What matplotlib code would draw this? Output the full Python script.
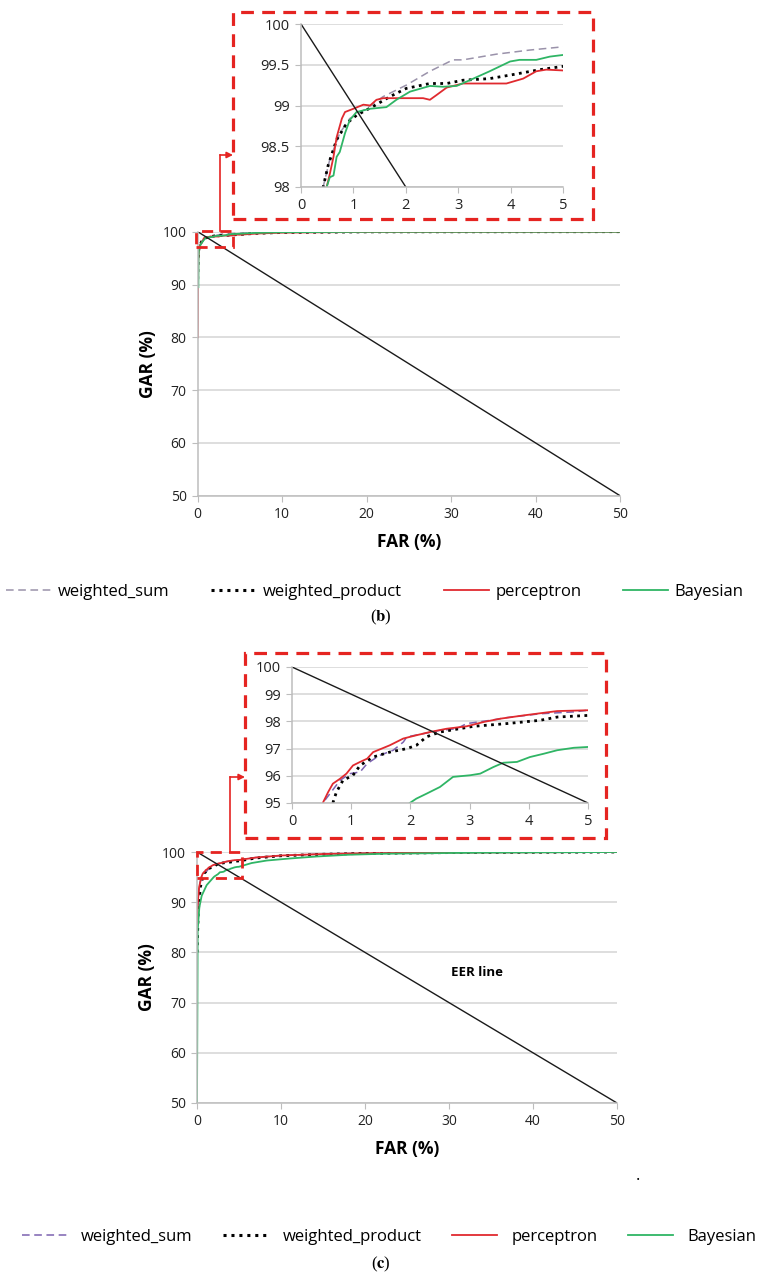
import matplotlib
matplotlib.use("Agg")
import matplotlib.pyplot as plt
import numpy as np
from matplotlib.lines import Line2D
from matplotlib.patches import Rectangle
from matplotlib.ticker import FuncFormatter

plt.rcParams['font.family'] = ['Open Sans', 'DejaVu Sans']

# ---------------- data: panel (b) ----------------
b_ws_far = [0, 0.05, 0.15, 0.3, 0.43, 0.55, 0.74, 0.93, 1.19, 1.57, 2.01, 2.46, 2.90, 3.09, 3.73, 4.36, 5.0, 7, 10, 20, 50]
b_ws_gar = [92, 95.5, 97.0, 97.6, 98.02, 98.34, 98.66, 98.84, 98.94, 99.11, 99.25, 99.42, 99.56, 99.56, 99.63, 99.68, 99.72, 99.82, 99.9, 99.98, 100]

b_wp_far = [0, 0.05, 0.15, 0.3, 0.43, 0.52, 0.68, 0.87, 1.06, 1.38, 1.70, 2.01, 2.46, 2.78, 3.09, 3.60, 4.05, 4.56, 5.0, 7, 10, 20, 50]
b_wp_gar = [91, 95.0, 96.8, 97.5, 98.02, 98.27, 98.58, 98.78, 98.88, 98.99, 99.11, 99.21, 99.27, 99.27, 99.31, 99.33, 99.38, 99.44, 99.48, 99.7, 99.85, 99.97, 100]

b_pc_far = [0, 0.02, 0.06, 0.15, 0.3, 0.49, 0.55, 0.62, 0.68, 0.78, 0.84, 1.0, 1.19, 1.32, 1.44, 1.57, 1.82, 2.33, 2.46, 2.59, 2.78,
            3.09, 3.48, 3.92, 4.24, 4.49, 4.68, 5.0, 7, 10, 20, 50]
b_pc_gar = [80, 83, 94.5, 96.8, 97.5, 98.0, 98.16, 98.37, 98.61, 98.84, 98.92, 98.96, 99.01, 99.0, 99.07, 99.09, 99.09, 99.09, 99.07, 99.13, 99.22,
            99.27, 99.27, 99.27, 99.33, 99.42, 99.44, 99.43, 99.65, 99.82, 99.96, 100]

b_by_far = [0.08, 0.1, 0.15, 0.3, 0.49, 0.55, 0.62, 0.68, 0.74, 0.84, 0.93, 1.06, 1.32, 1.63, 1.82, 2.08, 2.46, 2.71, 2.97, 3.22, 3.60,
            3.99, 4.17, 4.49, 4.75, 5.0, 7, 10, 20, 50]
b_by_gar = [89.5, 95.5, 96.6, 97.4, 98.0, 98.12, 98.14, 98.37, 98.43, 98.66, 98.82, 98.92, 98.96, 98.98, 99.07, 99.17, 99.24, 99.23, 99.24, 99.31, 99.42,
            99.54, 99.56, 99.56, 99.60, 99.62, 99.78, 99.9, 99.98, 100]

# ---------------- data: panel (c) ----------------
c_ws_far = [0, 0.1, 0.3, 0.52, 0.64, 0.81, 0.98, 1.15, 1.27, 1.48, 1.71, 1.88, 1.94, 2.22, 2.50, 2.78, 2.95, 3.35, 3.63, 4.19, 4.76, 5.0,
            7, 10, 15, 20, 30, 50]
c_ws_gar = [84, 89, 93.5, 95.0, 95.34, 95.83, 96.08, 96.14, 96.45, 96.75, 96.94, 97.24, 97.43, 97.55, 97.67, 97.73, 97.92, 98.04, 98.14, 98.28, 98.35, 98.41,
            98.9, 99.3, 99.6, 99.75, 99.9, 100]

c_wp_far = [0, 0.15, 0.4, 0.69, 0.75, 0.86, 1.03, 1.15, 1.37, 1.65, 1.94, 2.10, 2.27, 2.50, 3.07, 3.63, 4.19, 4.48, 5.0,
            7, 10, 15, 20, 30, 50]
c_wp_gar = [80, 88, 93, 95.0, 95.40, 95.83, 96.02, 96.38, 96.69, 96.87, 97.00, 97.12, 97.43, 97.61, 97.82, 97.92, 98.04, 98.16, 98.22,
            98.8, 99.25, 99.55, 99.72, 99.88, 100]

c_pc_far = [0, 0.1, 0.25, 0.52, 0.61, 0.69, 0.81, 0.92, 1.03, 1.15, 1.27, 1.37, 1.65, 1.88, 2.10, 2.33, 2.61, 2.95, 3.24, 3.52, 3.91, 4.48, 5.0,
            7, 10, 15, 20, 30, 50]
c_pc_gar = [85, 90, 93, 95.0, 95.40, 95.71, 95.89, 96.08, 96.38, 96.51, 96.63, 96.87, 97.12, 97.37, 97.49, 97.61, 97.73, 97.82, 97.98, 98.10, 98.22, 98.38, 98.41,
            98.9, 99.3, 99.6, 99.75, 99.9, 100]

c_by_far = [0, 0.05, 0.08, 0.28, 0.56, 1.15, 1.99, 2.10, 2.27, 2.50, 2.72, 3.01, 3.18, 3.40, 3.57, 3.80, 4.02, 4.25, 4.48, 4.76, 5.0,
            6.5, 8.3, 11, 14.2, 18, 22.2, 30, 34, 50]
c_by_gar = [50, 70, 84.4, 89.0, 91.3, 93.4, 95.0, 95.16, 95.34, 95.59, 95.96, 96.02, 96.08, 96.32, 96.48, 96.51, 96.69, 96.81, 96.94, 97.03, 97.06,
            97.8, 98.3, 98.7, 99.1, 99.45, 99.65, 99.8, 99.87, 100]

eer_far = [0, 50]
eer_gar = [100, 50]

labels = ["weighted_sum", "weighted_product", "perceptron", "Bayesian"]

# ---------------- styles ----------------
RED = "#e02a2f"
GREEN = "#2fb565"
GRID = "#d4d4d4"
SPINE = "#bdbdbd"
BOX_RED = "#e52421"

W, H = 762, 1275
fig = plt.figure(figsize=(W / 100, H / 100), dpi=100)


def rect(l, t, r, b):
    return [l / W, 1 - b / H, (r - l) / W, (b - t) / H]


def fxy(px, py):
    return (px / W, 1 - py / H)


def style(ax, xlim, ylim, xticks, yticks, fs):
    ax.set_xlim(*xlim)
    ax.set_ylim(*ylim)
    ax.set_xticks(xticks)
    ax.set_yticks(yticks)
    ax.yaxis.set_major_formatter(FuncFormatter(lambda v, p: f"{v:g}"))
    ax.grid(axis="y", color=GRID, lw=1.1)
    ax.set_axisbelow(True)
    for s in ("top", "right"):
        ax.spines[s].set_visible(False)
    for s in ("left", "bottom"):
        ax.spines[s].set_color(SPINE)
        ax.spines[s].set_linewidth(1.1)
    ax.tick_params(direction="out", length=4, color=SPINE, labelsize=fs,
                   labelcolor="#222222", pad=4)


def draw_series(ax, ws, wp, pc, by, ws_color, clip=True):
    ax.plot(ws[0], ws[1], color=ws_color, lw=1.1, dashes=(5, 3), clip_on=clip)
    ax.plot(wp[0], wp[1], color="black", lw=2.0, ls=(0, (1, 1.6)), clip_on=clip)
    ax.plot(pc[0], pc[1], color=RED, lw=1.3, clip_on=clip)
    ax.plot(by[0], by[1], color=GREEN, lw=1.3, clip_on=clip)
    ax.plot(eer_far, eer_gar, color="#1a1a1a", lw=1.0, clip_on=clip)


def dashed_box(l, t, r, b, lw=2.3):
    fig.add_artist(Rectangle(fxy(l, b), (r - l) / W, (b - t) / H, fill=False,
                             ec=BOX_RED, lw=lw, ls=(0, (4, 2.6)),
                             transform=fig.transFigure))


def connector(x, y0, y1, x_end):
    fig.add_artist(Line2D([x / W, x / W], [1 - y0 / H, 1 - y1 / H], color=BOX_RED,
                          lw=1.2, transform=fig.transFigure))
    fig.add_artist(matplotlib.patches.FancyArrowPatch(
        fxy(x, y1), fxy(x_end, y1), arrowstyle="-|>", mutation_scale=9,
        color=BOX_RED, lw=1.2, transform=fig.transFigure, shrinkA=0, shrinkB=0))


def legend(y, cx, colsp, textpad, ws_color):
    handles = [Line2D([], [], color=ws_color, lw=1.1, dashes=(5, 3)),
               Line2D([], [], color="black", lw=2.2, ls=(0, (1, 1.6))),
               Line2D([], [], color=RED, lw=1.3),
               Line2D([], [], color=GREEN, lw=1.3)]
    fig.legend(handles, labels, loc="center", bbox_to_anchor=fxy(cx, y), ncol=4,
               frameon=False, fontsize=12, handlelength=2.7, handletextpad=textpad,
               columnspacing=colsp)


def caption(txt, y):
    fig.text(381 / W, 1 - y / H, r"(" + r"$\mathbf{" + txt + r"}$" + r")",
             ha="center", va="center", fontsize=12, family="Liberation Serif",
             math_fontfamily="stix")


# ================= panel (b) =================
b_series = ((b_ws_far, b_ws_gar), (b_wp_far, b_wp_gar), (b_pc_far, b_pc_gar), (b_by_far, b_by_gar))

axb = fig.add_axes(rect(197.7, 231.7, 620, 495.7))
style(axb, (0, 50), (50, 100), range(0, 51, 10), range(50, 101, 10), 10)
draw_series(axb, *b_series, ws_color="#9a92aa")
axb.set_xlabel("FAR (%)", fontsize=12.5, fontweight="bold", labelpad=8)
axb.set_ylabel("GAR (%)", fontsize=12.5, fontweight="bold", labelpad=4)

axbi = fig.add_axes(rect(301, 24, 563, 187))
style(axbi, (0, 5), (98, 100), range(0, 6), [98, 98.5, 99, 99.5, 100], 10.5)
draw_series(axbi, *b_series, ws_color="#9a92aa")

dashed_box(233, 12, 593, 219)
dashed_box(196, 231, 233, 247, lw=2.0)
connector(220, 231, 155, 233)
legend(592, 375, 2.5, 0.4, "#9a92aa")
caption("b", 617)

# ================= panel (c) =================
c_series = ((c_ws_far, c_ws_gar), (c_wp_far, c_wp_gar), (c_pc_far, c_pc_gar), (c_by_far, c_by_gar))

axc = fig.add_axes(rect(197, 852, 617, 1103))
style(axc, (0, 50), (50, 100), range(0, 51, 10), range(50, 101, 10), 10)
draw_series(axc, *c_series, ws_color="#7c62b0")
axc.set_xlabel("FAR (%)", fontsize=12.5, fontweight="bold", labelpad=8)
axc.set_ylabel("GAR (%)", fontsize=12.5, fontweight="bold", labelpad=4)
axc.text(33.3, 75.9, "EER line", fontsize=9.5, fontweight="bold", ha="center", va="center")

axci = fig.add_axes(rect(292, 667, 588, 803))
style(axci, (0, 5), (95, 100), range(0, 6), range(95, 101), 10.5)
draw_series(axci, *c_series, ws_color="#7c62b0")

dashed_box(245, 653, 606, 838)
dashed_box(197, 852, 242, 878, lw=2.0)
connector(230, 852, 777, 245)
legend(1237, 389, 1.85, 0.85, "#7c62b0")
caption("c", 1264)
fig.text(638 / W, 1 - 1176 / H, ".", fontsize=12, ha="center", va="center")

fig.savefig("out.png", dpi=100)
